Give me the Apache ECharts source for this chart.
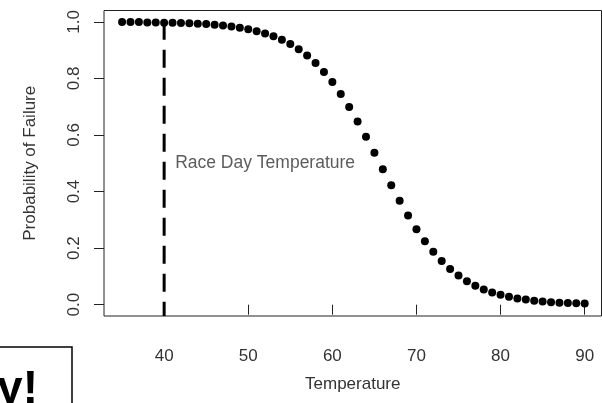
<!DOCTYPE html>
<html>
<head>
<meta charset="utf-8">
<script src="https://cdn.jsdelivr.net/npm/echarts@6/dist/echarts.min.js"></script>
<style>
html,body{margin:0;padding:0;background:#fff;}
#chart{width:602px;height:403px;}
</style>
</head>
<body>
<div id="chart"></div>
<script>
// Temperatures (x) and probability of failure (y)
const temperatures = [35,36,37,38,39,40,41,42,43,44,45,46,47,48,49,50,51,52,53,54,55,56,57,58,59,60,61,62,63,64,65,66,67,68,69,70,71,72,73,74,75,76,77,78,79,80,81,82,83,84,85,86,87,88,89,90];
const probFailure = [0.999,0.999,0.999,0.998,0.998,0.997,0.997,0.996,0.995,0.993,0.992,0.990,0.987,0.983,0.979,0.974,0.967,0.959,0.949,0.937,0.922,0.903,0.881,0.854,0.823,0.787,0.745,0.699,0.648,0.594,0.537,0.479,0.422,0.367,0.315,0.267,0.224,0.187,0.154,0.126,0.103,0.083,0.067,0.054,0.043,0.035,0.028,0.022,0.018,0.014,0.011,0.009,0.007,0.006,0.005,0.004];
const xTicks = [40,50,60,70,80,90];
const yTicks = [0,0.2,0.4,0.6,0.8,1.0];
const raceDayTemp = 40;
const raceDayLineTop = 1.0;
const raceDayLabelY = 0.5;
const raceDayLabel = 'Race Day Temperature';
const xTitle = 'Temperature';
const yTitle = 'Probability of Failure';
const cornerText = 'y!';

const xMin = 32.85, xMax = 92.0, yMin = -0.04, yMax = 1.04;
const FONT = '"Liberation Sans", Arial, sans-serif';
const TXT = '#333';

const chart = echarts.init(document.getElementById('chart'), null, {renderer: 'canvas'});
chart.setOption({
  backgroundColor: '#fff',
  animation: false,
  grid: {
    left: 104, top: 10.5, width: 497.5, height: 305.5,
    show: true, borderColor: '#222', borderWidth: 1, backgroundColor: 'transparent'
  },
  xAxis: {
    type: 'value', min: xMin, max: xMax,
    name: xTitle, nameLocation: 'middle', nameGap: 60,
    nameTextStyle: {fontFamily: FONT, fontSize: 17, color: TXT},
    axisLine: {show: false},
    splitLine: {show: false},
    axisTick: {show: true, length: 10, customValues: xTicks, lineStyle: {color: '#222', width: 1}},
    axisLabel: {show: true, customValues: xTicks, margin: 32, fontFamily: FONT, fontSize: 17, color: TXT,
      formatter: v => String(v)}
  },
  yAxis: {
    type: 'value', min: yMin, max: yMax,
    name: yTitle, nameLocation: 'middle', nameGap: 65, nameRotate: 90,
    nameTextStyle: {fontFamily: FONT, fontSize: 17, color: TXT},
    axisLine: {show: false},
    splitLine: {show: false},
    axisTick: {show: true, length: 10, customValues: yTicks, lineStyle: {color: '#222', width: 1}},
    axisLabel: {show: true, customValues: yTicks, rotate: 90, margin: 21, fontFamily: FONT, fontSize: 17, color: TXT,
      formatter: v => v.toFixed(1)}
  },
  series: [
    {
      type: 'line',
      data: [[raceDayTemp, raceDayLineTop], [raceDayTemp, yMin]],
      symbol: 'none',
      lineStyle: {color: '#000', width: 3, type: [18, 10], cap: 'butt', opacity: 1},
      silent: true, z: 2
    },
    {
      type: 'scatter',
      data: temperatures.map((t, i) => [t, probFailure[i]]),
      symbol: 'circle', symbolSize: 8,
      itemStyle: {color: '#000', opacity: 1},
      z: 3
    },
    {
      type: 'scatter',
      data: [[raceDayTemp, raceDayLabelY]],
      symbolSize: 0,
      label: {show: true, position: 'right', distance: 11, formatter: raceDayLabel,
        fontFamily: FONT, fontSize: 17.5, color: TXT},
      z: 4
    }
  ],
  graphic: [
    {type: 'rect', shape: {x: -5, y: 347, width: 77, height: 70},
      style: {fill: 'none', stroke: '#000', lineWidth: 1.5}},
    {type: 'text', x: 38, y: 367, z: 10,
      style: {text: cornerText, fontSize: 46, fontWeight: 'bold', fontFamily: FONT, fill: '#000',
        align: 'right', verticalAlign: 'top'}}
  ]
});
</script>
</body>
</html>
